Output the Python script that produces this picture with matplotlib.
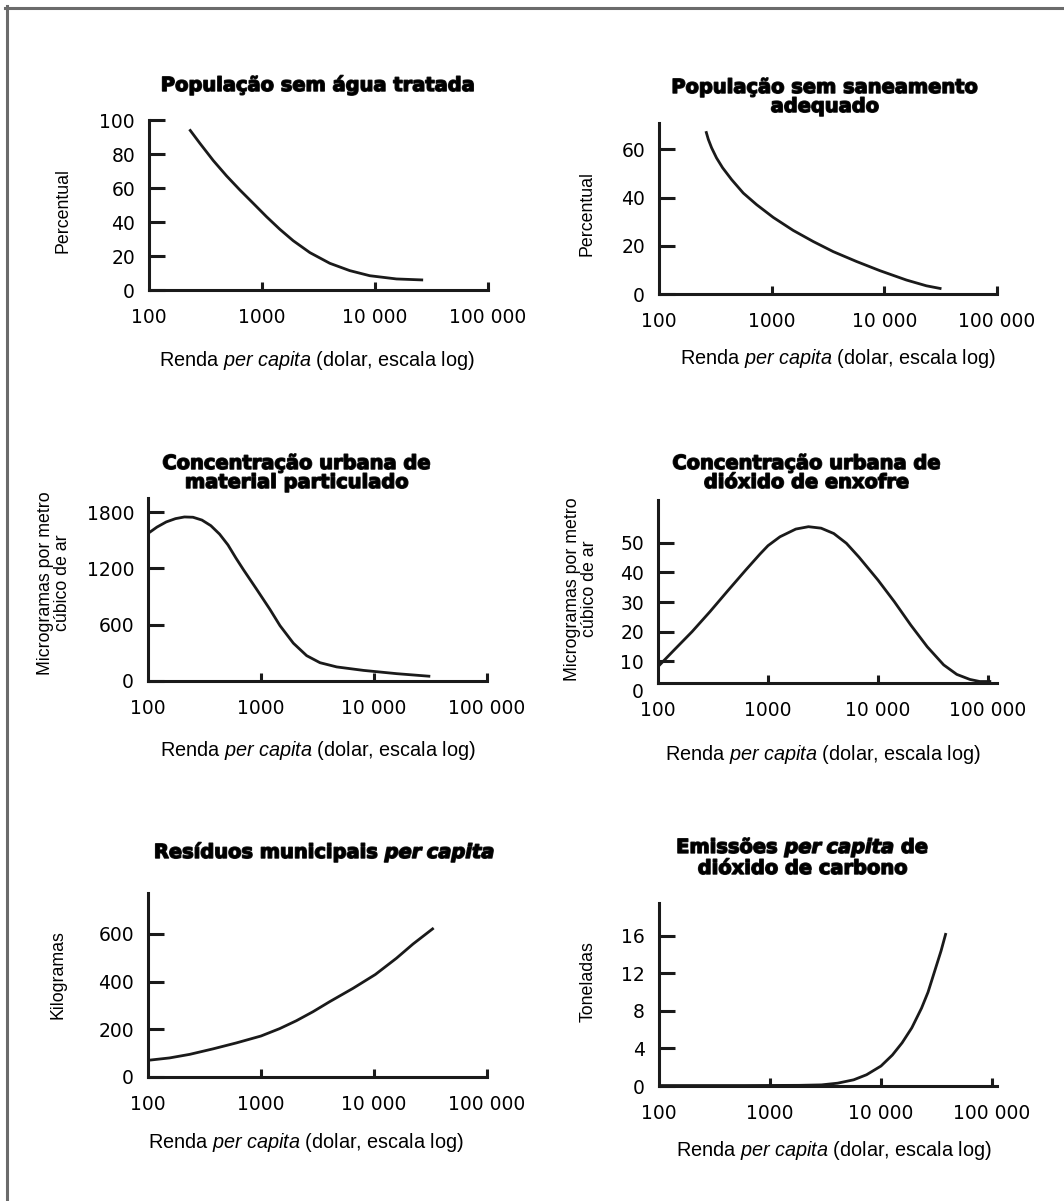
import matplotlib
matplotlib.use("Agg")
import matplotlib.pyplot as plt
import matplotlib.patheffects as pe
from matplotlib.lines import Line2D

W, H = 1064, 1201

plt.rcParams['font.family'] = ['DejaVu Sans']
plt.rcParams['mathtext.fontset'] = 'custom'
plt.rcParams['mathtext.it'] = 'Liberation Sans:italic'
plt.rcParams['mathtext.rm'] = 'Liberation Sans'
plt.rcParams['mathtext.bfit'] = 'DejaVu Sans:italic:bold'

LABEL_FONT = ['Liberation Sans', 'DejaVu Sans']

# x ticks shared by all panels
x_ticks = [100, 1000, 10000, 100000]
x_ticklabels = ['100', '1000', '10 000', '100 000']

# População sem água tratada
agua_x = [228, 282, 371, 486, 638, 836, 1097, 1439, 1888, 2652, 3984, 5980, 8990, 15490, 26670]
agua_y = [94.5, 86.3, 76.1, 67.1, 58.8, 51.0, 43.1, 35.7, 29.0, 22.0, 15.7, 11.4, 8.4, 6.5, 5.9]

# População sem saneamento adequado
san_x = [261, 274, 293, 324, 367, 441, 560, 735, 1033, 1553, 2337, 3516, 5663, 9120, 15700, 23640, 32140]
san_y = [67.6, 64.2, 60.7, 56.5, 52.4, 47.5, 41.9, 37.1, 31.8, 26.4, 21.8, 17.6, 13.5, 9.7, 5.8, 3.4, 2.2]

# Concentração urbana de material particulado
pm_x = [100, 120, 145, 175, 210, 250, 300, 360, 430, 510, 600, 700, 914, 1200, 1472, 1933,
        2536, 3327, 4677, 8072, 15930, 31470]
pm_y = [1572, 1640, 1695, 1730, 1748, 1745, 1715, 1655, 1565, 1450, 1310, 1185, 978, 763, 590, 403,
        270, 195, 150, 113, 78, 50]

# Concentração urbana de dióxido de enxofre
so2_x = [100, 140, 204, 296, 431, 628, 847, 1000, 1285, 1790, 2333, 3040, 3963, 5164, 6730,
         10000, 14090, 19890, 28060, 39560, 52040, 68490, 84200, 107000]
so2_y = [8.2, 13.8, 20.0, 26.7, 33.8, 40.8, 46.2, 49.0, 52.0, 54.6, 55.4, 54.9, 53.1, 49.8, 45.1,
         37.4, 30.1, 22.2, 14.9, 8.8, 5.6, 3.9, 3.2, 3.2]

# Resíduos municipais per capita
res_x = [100, 155, 234, 376, 605, 1000, 1463, 2054, 2886, 4052, 6520, 10270, 15770, 22150, 33730]
res_y = [70, 80, 95, 118, 143, 172, 203, 236, 274, 316, 372, 430, 498, 558, 625]

# Emissões per capita de dióxido de carbono
co2_x = [100, 597, 1824, 2911, 4064, 5675, 7413, 10000, 12660, 15490, 18950, 23190, 26530, 30370, 34760, 38450]
co2_y = [0.05, 0.05, 0.07, 0.12, 0.3, 0.66, 1.2, 2.13, 3.3, 4.6, 6.2, 8.3, 10.0, 12.2, 14.4, 16.3]

xlabel = r'Renda $\mathit{per\ capita}$ (dolar, escala log)'
mg = 'Microgramas por metro\ncúbico de ar'

panels = [
    dict(x=agua_x, y=agua_y, yticks=[0, 20, 40, 60, 80, 100], box=(149, 488, 290, 120),
         ylim=(0, 100), xmax=1e5, axis_y=0, title='População sem água tratada', tpos=(318, 85),
         ylabel='Percentual', ypos=(63, 211), xpos=(317, 360)),
    dict(x=san_x, y=san_y, yticks=[0, 20, 40, 60], box=(659, 997, 294, 123),
         ylim=(0, 71), xmax=1e5, axis_y=0, title='População sem saneamento\nadequado', tpos=(825, 97),
         ylabel='Percentual', ypos=(587, 213), xpos=(838, 358)),
    dict(x=pm_x, y=pm_y, yticks=[0, 600, 1200, 1800], box=(148, 487, 681, 498),
         ylim=(0, 1950), xmax=1e5, axis_y=0, title='Concentração urbana de\nmaterial particulado',
         tpos=(297, 473), ylabel=mg, ypos=(54, 583), xpos=(318, 750)),
    dict(x=so2_x, y=so2_y, yticks=[0, 10, 20, 30, 40, 50], box=(658, 997, 691, 500),
         ylim=(0, 64.4), xmax=10 ** 5.082, axis_y=2.8, title='Concentração urbana de\ndióxido de enxofre',
         tpos=(807, 473), ylabel=mg, ypos=(581, 589), xpos=(823, 755)),
    dict(x=res_x, y=res_y, yticks=[0, 200, 400, 600], box=(148, 487, 1077, 893),
         ylim=(0, 772), xmax=1e5, axis_y=0, title=r'Resíduos municipais $\mathbfit{per\ capita}$',
         tpos=(325, 852), ylabel='Kilogramas', ypos=(58, 975), xpos=(306, 1143)),
    dict(x=co2_x, y=co2_y, yticks=[0, 4, 8, 12, 16], box=(659, 997, 1086, 903),
         ylim=(0, 19.5), xmax=10 ** 5.045, axis_y=0,
         title='Emissões $\\mathbfit{per\\ capita}$ de\ndióxido de carbono',
         tpos=(803, 857), ylabel='Toneladas', ypos=(588, 982), xpos=(834, 1150)),
]

fig = plt.figure(figsize=(W / 100, H / 100), dpi=100)


def fx(x):
    return x / W


def fy(y):
    return 1 - y / H


heavy = [pe.withStroke(linewidth=1.1, foreground='#1a1a1a')]

for p in panels:
    l, r, b, t = p['box']
    ax = fig.add_axes([fx(l), fy(b), (r - l) / W, (b - t) / H])
    ax.plot(p['x'], p['y'], color='#1a1a1a', lw=2.0, solid_capstyle='butt')
    ax.set_xscale('log')
    ax.set_xlim(100, p['xmax'])
    ax.set_ylim(*p['ylim'])
    ax.minorticks_off()
    ax.set_xticks(x_ticks)
    ax.set_xticklabels(x_ticklabels)
    ax.set_yticks(p['yticks'])
    ax.set_yticklabels([str(v) for v in p['yticks']])
    for s in ['top', 'right']:
        ax.spines[s].set_visible(False)
    for s in ['left', 'bottom']:
        ax.spines[s].set_linewidth(2.2)
        ax.spines[s].set_color('#1a1a1a')
    ax.spines['bottom'].set_position(('data', p['axis_y']))
    ax.spines['left'].set_bounds(p['axis_y'], p['ylim'][1])
    ax.tick_params(axis='y', direction='in', length=11.5, width=2.2, color='#1a1a1a',
                   labelsize=13.5, pad=10)
    ax.tick_params(axis='x', direction='in', length=6, width=2.2, color='#1a1a1a',
                   labelsize=13.5, pad=13)
    ax.xaxis.get_major_ticks()[0].tick1line.set_visible(False)
    if p['axis_y'] != 0:
        ax.yaxis.get_major_ticks()[0].tick1line.set_visible(False)
    ax.patch.set_visible(False)

    fig.text(fx(p['tpos'][0]), fy(p['tpos'][1]), p['title'], ha='center', va='center',
             fontsize=14, fontweight='bold', linespacing=1.0, path_effects=heavy)
    fig.text(fx(p['xpos'][0]), fy(p['xpos'][1]), xlabel, ha='center', va='center',
             fontsize=14.3, family=LABEL_FONT)
    fig.text(fx(p['ypos'][0]), fy(p['ypos'][1]), p['ylabel'], ha='center', va='center',
             rotation=90, fontsize=12.8, family=LABEL_FONT, linespacing=0.95)

# frame (top and left edges)
fig.add_artist(Line2D([fx(5), 1], [fy(7.5), fy(7.5)], color='#6b6b6b', lw=2.2))
fig.add_artist(Line2D([fx(6.5), fx(6.5)], [fy(6), 0], color='#6b6b6b', lw=2.2))

fig.savefig('out.png', dpi=100)
